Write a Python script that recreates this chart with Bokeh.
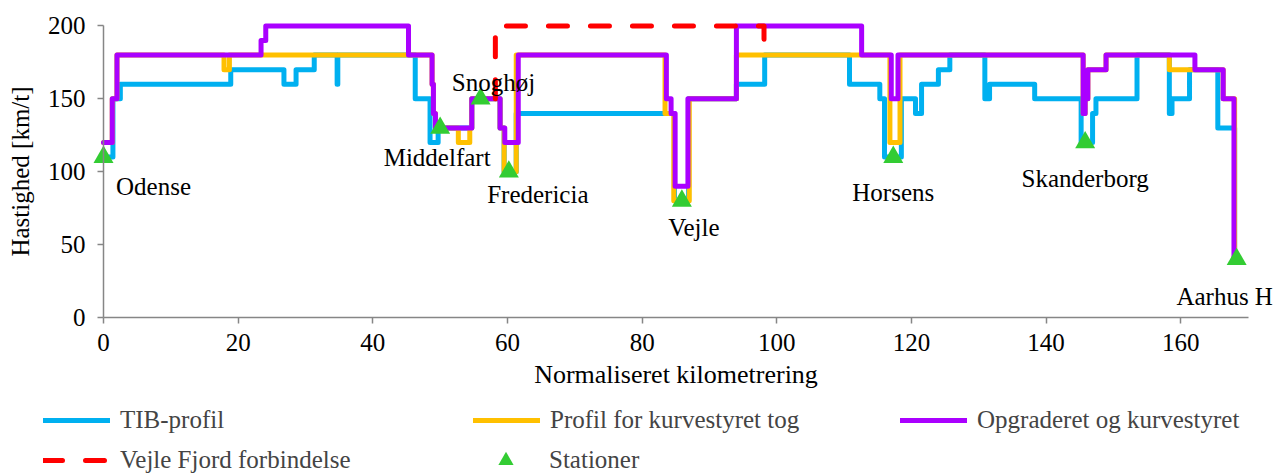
from bokeh.plotting import figure
from bokeh.models import Range1d, FixedTicker, Label, Legend, LegendItem, LinearAxis
from bokeh.embed import file_html
from bokeh.resources import INLINE

# ---------------- data ----------------
tib_km = [0, 1.4, 2.5, 18.9, 26.8, 28.6, 31.3, 34.7, 34.8, 46.3, 48.5, 49.7, 54.7,
          58.9, 59.5, 61.3, 84.8, 86.9, 94.0, 98.2, 110.8, 115.3, 116.0, 118.5,
          120.6, 121.5, 124.0, 125.7, 130.9, 131.6, 138.3, 145.2, 146.9, 147.4,
          153.5, 158.3, 158.7, 161.3, 165.5, 168.0]
tib_speed = [110, 150, 160, 170, 160, 170, 180, 160, 180, 150, 120, 130, 150,
             130, 100, 140, 80, 150, 160, 180, 160, 150, 110, 150,
             140, 160, 170, 180, 150, 160, 150, 120, 140, 150,
             180, 140, 150, 170, 130, 40]

kurve_km = [0, 1.3, 2.0, 17.9, 18.7, 48.8, 49.0, 49.3, 52.7, 54.4, 54.7, 58.9,
            59.5, 61.3, 83.4, 84.7, 87.0, 94.0, 116.8, 118.3, 145.5, 145.8,
            146.2, 148.9, 158.3, 166.3, 168.0]
kurve_speed = [120, 150, 180, 170, 180, 160, 140, 130, 120, 130, 150, 130,
               100, 180, 140, 80, 150, 180, 120, 180, 140, 150,
               170, 180, 170, 150, 40]

opgrad_km = [0, 1.3, 2.0, 23.4, 24.1, 45.3, 48.8, 49.0, 49.3, 54.7, 58.9, 59.6,
             61.6, 83.6, 84.3, 84.9, 86.8, 94.0, 112.6, 117.0, 118.0, 145.5,
             145.8, 146.2, 148.9, 162.1, 166.3, 167.9]
opgrad_speed = [120, 150, 180, 190, 200, 180, 160, 140, 130, 150, 130, 120,
                180, 150, 140, 90, 150, 200, 180, 150, 180, 140,
                150, 170, 180, 170, 150, 40]

fjord_km = [58.2, 58.2, 98.1, 98.1]
fjord_speed = [150, 200, 200, 180]

station_names = ["Odense", "Middelfart", "Snoghøj", "Fredericia", "Vejle",
                 "Horsens", "Skanderborg", "Aarhus H"]
station_km = [0.0, 50.0, 56.0, 60.2, 85.9, 117.3, 145.8, 168.3]
station_speed = [110, 130, 150, 100, 80, 110, 120, 40]

x_ticks = [0, 20, 40, 60, 80, 100, 120, 140, 160]
y_ticks = [0, 50, 100, 150, 200]
x_axis_end = 170
y_axis_end = 200

series_labels = ["TIB-profil", "Profil for kurvestyret tog", "Opgraderet og kurvestyret",
                 "Vejle Fjord forbindelse", "Stationer"]

# ---------------- layout / style ----------------
FONT = "Liberation Serif"
FS = "25px"
AXIS_GRAY = "#868686"
C_TIB = "#00B0F0"
C_KURVE = "#FFC000"
C_OPGRAD = "#AA00FF"
C_FJORD = "#FF0000"
C_STAT = "#33CC33"

W, H = 1276, 473
X0_PX, PX_PER_KM = 103.0, 6.733      # pixel of km 0, pixels per km
Y0_PX, PX_PER_KMH = 317.0, 1.458     # pixel of 0 km/t, pixels per km/t

# label offsets in screen px (dx right, dy up)
label_dx = [50, -3, 13, 29, 12, 0, 0, -12]
label_dy = [-29, -30, 16, -23, -27, -35, -36, -37]

p = figure(width=W, height=H, output_backend="svg", toolbar_location=None,
           title=None, x_axis_location=None, y_axis_location=None,
           x_range=Range1d(-X0_PX / PX_PER_KM, (W - X0_PX) / PX_PER_KM),
           y_range=Range1d(-(H - Y0_PX) / PX_PER_KMH, Y0_PX / PX_PER_KMH),
           min_border_left=0, min_border_right=0, min_border_top=0,
           min_border_bottom=0)
p.outline_line_color = None
p.xgrid.visible = False
p.ygrid.visible = False


def style_axis(ax):
    ax.axis_line_color = AXIS_GRAY
    ax.axis_line_width = 1.5
    ax.major_tick_line_color = AXIS_GRAY
    ax.major_tick_line_width = 1.5
    ax.major_tick_out = 6
    ax.major_tick_in = 0
    ax.minor_tick_line_color = None
    ax.major_label_text_font = FONT
    ax.major_label_text_font_size = FS
    ax.major_label_text_color = "black"
    ax.axis_label_text_font = FONT
    ax.axis_label_text_font_size = FS
    ax.axis_label_text_font_style = "normal"
    ax.axis_label_text_color = "black"


xaxis = LinearAxis(fixed_location=0, bounds=(0, x_axis_end), ticker=FixedTicker(ticks=x_ticks),
                   axis_label="Normaliseret kilometrering")
style_axis(xaxis)
xaxis.major_label_standoff = 10
xaxis.axis_label_standoff = 6
xaxis.axis_label_text_font_size = "26px"
p.add_layout(xaxis, "below")

yaxis = LinearAxis(fixed_location=0, bounds=(0, y_axis_end), ticker=FixedTicker(ticks=y_ticks),
                   axis_label="Hastighed [km/t]")
style_axis(yaxis)
yaxis.major_label_standoff = 12
yaxis.axis_label_standoff = 11
p.add_layout(yaxis, "left")

common = dict(line_width=5, line_join="round", line_cap="round")
r_tib = p.step(tib_km, tib_speed, mode="after", line_color=C_TIB, **common)
r_kurve = p.step(kurve_km, kurve_speed, mode="after", line_color=C_KURVE, **common)
r_opgrad = p.step(opgrad_km, opgrad_speed, mode="after", line_color=C_OPGRAD, **common)
r_fjord = p.line(fjord_km, fjord_speed, line_color=C_FJORD, line_dash="19 23", **common)
r_stat = p.scatter(station_km, station_speed, marker="triangle", size=20,
                   fill_color=C_STAT, line_color=None)

for name, km, sp, dx, dy in zip(station_names, station_km, station_speed, label_dx, label_dy):
    p.add_layout(Label(x=km, y=sp, x_offset=dx, y_offset=dy, text=name,
                       text_font=FONT, text_font_size=FS, text_color="black",
                       text_align="center", text_baseline="middle"))


def add_leg(text, renderer, loc, gh=30):
    leg = Legend(items=[LegendItem(label=text, renderers=[renderer])], location=loc,
                 glyph_width=67, glyph_height=gh, label_height=gh, label_standoff=10,
                 padding=0, margin=0, border_line_color=None, background_fill_alpha=0,
                 label_text_font=FONT, label_text_font_size=FS,
                 label_text_baseline="middle")
    p.add_layout(leg)


# locations: (px from left, px from bottom) of each legend box
add_leg(series_labels[0], r_tib, (43, 38))
add_leg(series_labels[1], r_kurve, (473, 38))
add_leg(series_labels[2], r_opgrad, (900, 38))
add_leg(series_labels[3], r_fjord, (43, -2))
add_leg(series_labels[4], r_stat, (472, -6), gh=38)

open("out.html", "w").write(file_html(p, INLINE))
